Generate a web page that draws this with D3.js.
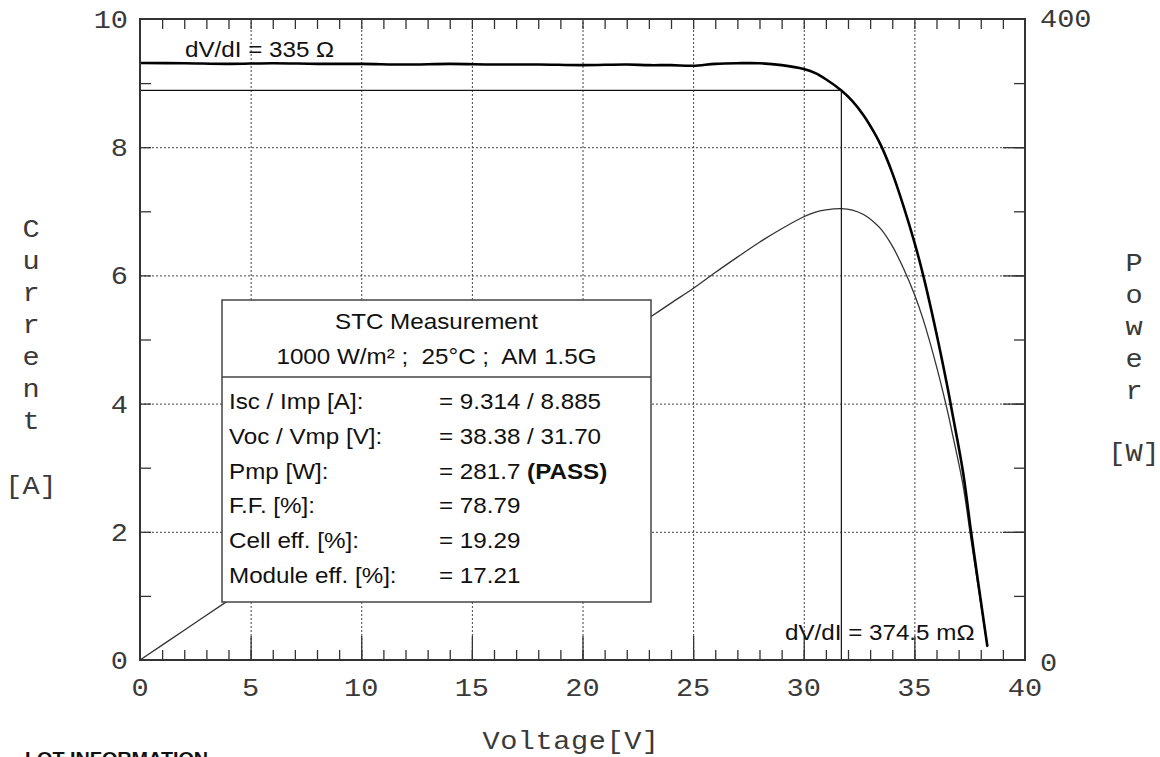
<!DOCTYPE html>
<html>
<head>
<meta charset="utf-8">
<script src="https://cdn.jsdelivr.net/npm/d3@7"></script>
<style>
  body { margin: 0; background: #fff; }
  svg { display: block; }
  .mono { font-family: "Liberation Mono", "DejaVu Sans Mono", monospace; font-size: 26px; fill: #3a3a3a; }
  .sans { font-family: "Liberation Sans", Arial, sans-serif; font-size: 22px; fill: #111; }
  .minor line, .major line { stroke: #333; stroke-width: 1.3; }
  .minor path, .major path, .grid path { display: none; }
  .grid line { stroke: #444; stroke-width: 1; stroke-dasharray: 2,2; }
</style>
</head>
<body>
<div id="chart"></div>
<script>
// I-V curve
var voltage = [0, 2, 4, 6, 8, 10, 12, 14, 16, 18, 20, 22, 23, 24, 25, 26, 27, 28, 29, 30, 30.5, 31, 31.7, 32.2, 32.7, 33.2, 33.5, 34.0, 34.5, 35.0, 35.4, 36.0, 36.5, 36.7, 37.2, 37.55, 37.9, 38.3];
var current = [9.314, 9.31, 9.30, 9.31, 9.30, 9.30, 9.29, 9.30, 9.29, 9.29, 9.28, 9.29, 9.28, 9.28, 9.27, 9.30, 9.31, 9.31, 9.28, 9.22, 9.16, 9.06, 8.885, 8.72, 8.50, 8.22, 8.02, 7.60, 7.09, 6.52, 6.0, 5.09, 4.25, 3.88, 2.93, 2.03, 1.17, 0.21];
var power = [0, 18.6, 37.2, 55.9, 74.4, 93.0, 111.5, 130.2, 148.6, 167.2, 185.6, 204.4, 213.4, 222.7, 231.8, 241.8, 251.4, 260.7, 269.1, 276.6, 279.4, 280.9, 281.7, 280.8, 278.0, 272.9, 268.7, 258.4, 244.6, 228.2, 212.4, 183.2, 155.1, 142.4, 109.0, 76.2, 44.3, 8.0];

var xTicks = [0, 5, 10, 15, 20, 25, 30, 35, 40];
var yTicks = [0, 2, 4, 6, 8, 10];
var powerTicks = [0, 400];

var vmp = 31.70, imp = 8.885;

var boxTitle = ["STC Measurement", "1000 W/m\u00b2 ;  25\u00b0C ;  AM 1.5G"];
var boxLabels = ["Isc / Imp [A]:", "Voc / Vmp [V]:", "Pmp [W]:", "F.F. [%]:", "Cell eff. [%]:", "Module eff. [%]:"];
var boxValues = ["= 9.314 / 8.885", "= 38.38 / 31.70", "= 281.7 ", "= 78.79", "= 19.29", "= 17.21"];

var width = 1160, height = 757;
// plot edges (don't call these top/left, window.top is taken)
var pL = 140, pR = 1025, pT = 19, pB = 660;

var svg = d3.select("#chart").append("svg")
    .attr("width", width)
    .attr("height", height);

var x = d3.scaleLinear().domain([0, 40]).range([pL, pR]);
var y = d3.scaleLinear().domain([0, 10]).range([pB, pT]);
var yP = d3.scaleLinear().domain([0, 400]).range([pB, pT]);

// text is a bit wider than the fonts we have, stretch it
function label(cls, str, px, py, anchor) {
    return svg.append("text")
        .attr("class", cls)
        .attr("transform", "translate(" + px + "," + py + ") scale(1.1,1)")
        .attr("text-anchor", anchor || "start")
        .style("white-space", "pre")
        .text(str);
}

// dotted grid
svg.append("g").attr("class", "grid")
    .attr("transform", "translate(0," + pB + ")")
    .call(d3.axisBottom(x).tickValues(xTicks.slice(1, -1)).tickSize(-(pB - pT)).tickFormat(""));
svg.append("g").attr("class", "grid")
    .attr("transform", "translate(" + pL + ",0)")
    .call(d3.axisLeft(y).tickValues(yTicks.slice(1, -1)).tickSize(-(pR - pL)).tickFormat(""));

// minor ticks, inward on all four sides
svg.append("g").attr("class", "minor")
    .attr("transform", "translate(0," + pB + ")")
    .call(d3.axisBottom(x).tickValues(d3.range(1, 40)).tickSize(-10).tickFormat(""));
svg.append("g").attr("class", "minor")
    .attr("transform", "translate(0," + pT + ")")
    .call(d3.axisTop(x).tickValues(d3.range(1, 40)).tickSize(-10).tickFormat(""));
svg.append("g").attr("class", "minor")
    .attr("transform", "translate(" + pL + ",0)")
    .call(d3.axisLeft(y).tickValues(d3.range(1, 10)).tickSize(-11).tickFormat(""));
svg.append("g").attr("class", "minor")
    .attr("transform", "translate(" + pR + ",0)")
    .call(d3.axisRight(y).tickValues(d3.range(1, 10)).tickSize(-11).tickFormat(""));

// longer major ticks
svg.append("g").attr("class", "major")
    .attr("transform", "translate(0," + pB + ")")
    .call(d3.axisBottom(x).tickValues(xTicks.slice(1, -1)).tickSize(-24).tickFormat(""));
svg.append("g").attr("class", "major")
    .attr("transform", "translate(" + pR + ",0)")
    .call(d3.axisRight(y).tickValues(yTicks.slice(1, -1)).tickSize(-22).tickFormat(""));

// power curve (right axis)
var powerLine = d3.line()
    .x(function(d, i) { return x(voltage[i]); })
    .y(function(d) { return yP(d); })
    .curve(d3.curveCatmullRom.alpha(0.5));
svg.append("path")
    .attr("d", powerLine(power))
    .attr("fill", "none")
    .attr("stroke", "#333")
    .attr("stroke-width", 1.3);

// I-V curve
var ivLine = d3.line()
    .x(function(d, i) { return x(voltage[i]); })
    .y(function(d) { return y(d); })
    .curve(d3.curveCatmullRom.alpha(0.5));
svg.append("path")
    .attr("d", ivLine(current))
    .attr("fill", "none")
    .attr("stroke", "#000")
    .attr("stroke-width", 2.6)
    .attr("stroke-linejoin", "round");

// maximum power point cross lines
svg.append("line")
    .attr("x1", x(0)).attr("x2", x(vmp))
    .attr("y1", y(imp)).attr("y2", y(imp))
    .attr("stroke", "#111").attr("stroke-width", 1.2);
svg.append("line")
    .attr("x1", x(vmp)).attr("x2", x(vmp))
    .attr("y1", y(imp)).attr("y2", y(0))
    .attr("stroke", "#111").attr("stroke-width", 1.2);

// plot frame
svg.append("rect")
    .attr("x", pL).attr("y", pT)
    .attr("width", pR - pL).attr("height", pB - pT)
    .attr("fill", "none")
    .attr("stroke", "#333")
    .attr("stroke-width", 2);

// measurement box
var bx = 222, by = 300, bw = 429, bh = 302;
svg.append("rect")
    .attr("x", bx).attr("y", by)
    .attr("width", bw).attr("height", bh)
    .attr("fill", "#fff")
    .attr("stroke", "#444")
    .attr("stroke-width", 1.5);
svg.append("line")
    .attr("x1", bx).attr("x2", bx + bw)
    .attr("y1", 377).attr("y2", 377)
    .attr("stroke", "#444").attr("stroke-width", 1.5);

label("sans", boxTitle[0], bx + bw / 2, 329, "middle");
label("sans", boxTitle[1], bx + bw / 2, 364, "middle");
boxLabels.forEach(function(t, i) {
    var py = 409 + i * 34.8;
    label("sans", t, 229, py);
    var v = label("sans", boxValues[i], 439, py);
    if (i == 2) v.append("tspan").attr("font-weight", "bold").text("(PASS)");
});

// resistance notes
label("sans", "dV/dI = 335 \u03a9", 185, 57);
label("sans", "dV/dI = 374.5 m\u03a9", 785, 640);

// tick labels
xTicks.forEach(function(t) {
    label("mono", String(t), x(t), 696, "middle");
});
yTicks.forEach(function(t) {
    label("mono", String(t), 128, y(t) + 9, "end");
});
powerTicks.forEach(function(t) {
    label("mono", String(t), 1040, yP(t) + (t == 0 ? 11 : 8));
});

// axis titles
label("mono", "Voltage[V]", 571, 749, "middle").attr("letter-spacing", "0.5px");
"Current".split("").forEach(function(c, i) {
    label("mono", c, 31, 237 + i * 32, "middle");
});
label("mono", "[A]", 31, 494, "middle");
"Power".split("").forEach(function(c, i) {
    label("mono", c, 1134, 271 + i * 32, "middle");
});
label("mono", "[W]", 1134, 461, "middle");

// cut off heading below the chart
label("sans", "LOT INFORMATION", 25, 765).attr("font-weight", "bold").style("font-size", "18px");
</script>
</body>
</html>
